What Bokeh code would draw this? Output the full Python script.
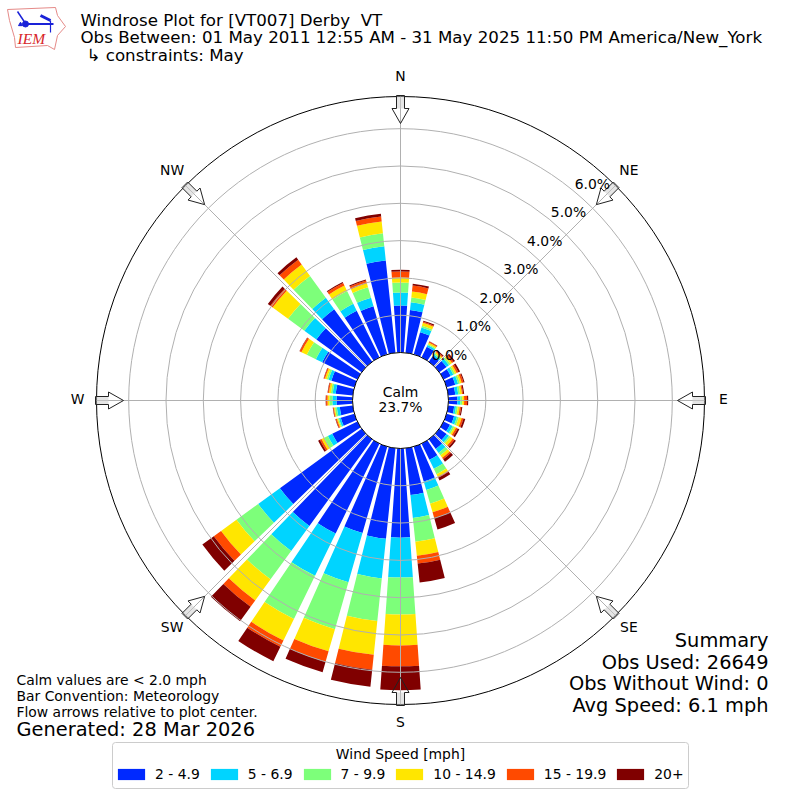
import math
from bokeh.embed import file_html
from bokeh.resources import INLINE
from bokeh.plotting import figure
from bokeh.models import Label, Legend, LegendItem, ColumnDataSource, BoxAnnotation

directions = [d * 10 for d in range(36)]
spd_2_5 = [1.26,1.15,.62,.32,.19,.24,.21,.24,.19,.24,.16,.21,.19,.24,.32,.48,.97,1.26,
           2.39,2.44,2.41,2.68,2.87,2.71,.75,.38,.35,.43,.46,.64,1.05,1.50,1.74,1.39,1.34,2.49]
spd_5_7 = [.35,.21,.13,.05,.05,.08,.08,.08,.08,.08,.05,.08,.08,.08,.13,.27,.24,.62,
           1.07,1.07,1.37,1.26,.83,.72,.13,.05,.08,.11,.08,.08,.19,.40,.38,.21,.24,.38]
spd_7_10 = [.27,.13,.05,.03,.04,.05,.05,.05,.05,.05,.05,.05,.05,.05,.08,.16,.38,.64,
            .99,1.15,1.31,1.29,.94,.72,.11,.03,.05,.08,.05,.05,.27,.54,.72,.38,.29,.35]
spd_10_15 = [.13,.16,.08,.04,.04,.05,.05,.05,.05,.05,.05,.08,.05,.08,.08,.08,.24,.38,
             .83,.91,.62,.64,.70,.51,.08,.03,.03,.05,.05,.05,.16,.51,.38,.16,.11,.32]
spd_15_20 = [.16,.16,.03,.03,.03,.05,.05,.05,.03,.08,.04,.05,.05,.05,.05,.03,.16,.21,
             .56,.40,.29,.19,.21,.24,.05,.03,.02,.04,.03,.03,.05,.08,.16,.08,.08,.13]
spd_20 = [.05,.05,.03,.01,.03,.05,.05,.03,.03,.03,.03,.05,.05,.05,.08,.08,.32,.51,
          .64,.46,.29,.43,.48,.38,.05,.01,.01,.01,.01,.01,.01,.08,.08,.03,.03,.08]
speed_labels = ["2 - 4.9", "5 - 6.9", "7 - 9.9", "10 - 14.9", "15 - 19.9", "20+"]
speed_colors = ["#0029ff", "#00d4ff", "#7dff7a", "#ffe600", "#ff4a00", "#800000"]
ring_values = [0, 1, 2, 3, 4, 5, 6]
compass = [("N", 0), ("NE", 45), ("E", 90), ("SE", 135), ("S", 180), ("SW", 225), ("W", 270), ("NW", 315)]
summary = ["Summary", "Obs Used: 26649", "Obs Without Wind: 0", "Avg Speed: 6.1 mph"]
notes = ["Calm values are < 2.0 mph", "Bar Convention: Meteorology", "Flow arrows relative to plot center."]
generated = "Generated: 28 Mar 2026"
titles = ["Windrose Plot for [VT007] Derby\u00a0 VT",
          "Obs Between: 01 May 2011 12:55 AM - 31 May 2025 11:50 PM America/New_York"]
constraint = "\u21b3 constraints: May"
calm = ["Calm", "23.7%"]
legend_title = "Wind Speed [mph]"

W = 800
PX = 37.3            # pixels per percent
ORIGIN = 48 / PX     # the hole in the middle, in percent units
OUTER = 304 / PX
HALF_BAR = math.radians(4)
FONT = "DejaVu Sans"

p = figure(width=W, height=W, output_backend="svg", toolbar_location=None,
           x_range=(-W / 2 / PX, W / 2 / PX), y_range=(-W / 2 / PX, W / 2 / PX),
           min_border=0, outline_line_color=None)
p.axis.visible = False
p.grid.visible = False
p.background_fill_color = "white"


def lab(x, y, text, size, align="left", color="black"):
    p.add_layout(Label(x=x, y=W - y, x_units="screen", y_units="screen", text=text,
                       text_font=FONT, text_font_size=f"{size}px", text_align=align,
                       text_baseline="middle", text_color=color))


# stacked bars
series = [spd_2_5, spd_5_7, spd_7_10, spd_10_15, spd_15_20, spd_20]
base = [ORIGIN] * len(directions)
start = [math.radians(90 - d) - HALF_BAR for d in directions]
end = [math.radians(90 - d) + HALF_BAR for d in directions]
items = []
for vals, color, name in zip(series, speed_colors, speed_labels):
    top = [b + v for b, v in zip(base, vals)]
    src = ColumnDataSource(dict(x=[0] * len(vals), y=[0] * len(vals), r0=base, r1=top, a0=start, a1=end))
    r = p.annular_wedge(x="x", y="y", inner_radius="r0", outer_radius="r1", start_angle="a0", end_angle="a1",
                        source=src, fill_color=color, line_color=None)
    items.append(LegendItem(label=name, renderers=[r]))
    base = top

# grid
GRID = "#b0b0b0"
for v in ring_values[1:]:
    p.circle(x=[0], y=[0], radius=ORIGIN + v, fill_color=None, line_color=GRID, line_width=1)
for _, d in compass:
    a = math.radians(90 - d)
    p.line([ORIGIN * math.cos(a), OUTER * math.cos(a)], [ORIGIN * math.sin(a), OUTER * math.sin(a)],
           line_color=GRID, line_width=1)
p.circle(x=[0], y=[0], radius=OUTER, fill_color=None, line_color="black", line_width=1)
p.circle(x=[0], y=[0], radius=ORIGIN, fill_color="white", line_color="black", line_width=1)

# flow arrows, drawn along the compass spokes
shape = [(305, -4), (292, -4), (292, -8.5), (277, 0), (292, 8.5), (292, 4), (305, 4)]
shaft = [(305, -4), (292, -4), (292, 4), (305, 4)]
for _, d in compass:
    a = math.radians(d)
    ux, uy = math.sin(a), math.cos(a)
    xs = [(r_ * ux + w_ * uy) / PX for r_, w_ in shaft]
    ys = [(r_ * uy - w_ * ux) / PX for r_, w_ in shaft]
    p.patch(xs, ys, fill_color="#cccccc", fill_alpha=0.5, line_color=None)
    xs = [(r_ * ux + w_ * uy) / PX for r_, w_ in shape]
    ys = [(r_ * uy - w_ * ux) / PX for r_, w_ in shape]
    p.patch(xs, ys, fill_color=None, line_color="#222222", line_width=1)

# compass labels
for name, d in compass:
    a = math.radians(d)
    lab(400 + 323 * math.sin(a), 398 - 323 * math.cos(a), name, 13.9, "center")

# percent labels
for v in ring_values:
    lab(449 + 23.8 * v, 354 - 28.5 * v, f"{v:.1f}%", 13.9, "center")

lab(400, 391, calm[0], 13.9, "center")
lab(400, 406, calm[1], 13.9, "center")

lab(80, 20, titles[0], 16.67, "left")
lab(80, 37, titles[1], 16.67, "left")
lab(86, 55, constraint, 16.67, "left")

for y, t in zip([640, 662, 683, 705], summary):
    lab(768, y, t, 19.4, "right")
for y, t in zip([679, 695, 711], notes):
    lab(16, y, t, 13.9, "left")
lab(16, 729, generated, 19.4, "left")

# logo
LOGO_RED = "#e58a88"
LOGO_BLUE = "#1a22d8"
def lx(x):
    return (x - 400) / PX
def ly(y):
    return (400 - y) / PX
outline = [(7, 9), (55, 7), (57, 15), (65, 26), (57, 35), (54, 49), (47, 45), (15, 47), (14, 37), (9, 20)]
p.patch([lx(a) for a, _ in outline], [ly(b) for _, b in outline], fill_color="white",
        line_color=LOGO_RED, line_width=1)
for seg, w in [(((25, 23.5), (53, 23.5)), 2), (((17, 11), (25, 23)), 1.5), (((40, 15), (50, 20)), 3),
               (((50, 20), (50, 32)), 1.2)]:
    p.line([lx(seg[0][0]), lx(seg[1][0])], [ly(seg[0][1]), ly(seg[1][1])], line_color=LOGO_BLUE, line_width=w)
p.scatter([lx(25)], [ly(23.5)], size=6, color=LOGO_BLUE)
p.scatter([lx(20)], [ly(24)], size=4, marker="triangle", color=LOGO_BLUE)
p.add_layout(Label(x=17, y=W - 38, x_units="screen", y_units="screen", text="IEM", text_font="Liberation Serif",
                   text_font_style="italic", text_font_size="15.5px", text_color="#d8262a",
                   text_align="left", text_baseline="middle"))

# legend frame, entries and centred title
p.add_layout(BoxAnnotation(left=112, right=688, top=W - 742, bottom=W - 788,
                           left_units="screen", right_units="screen", top_units="screen", bottom_units="screen",
                           fill_color="white", fill_alpha=0.8, line_color="#cccccc", line_alpha=1, line_width=1,
                           border_radius=3, level="annotation"))
legend = Legend(items=items, orientation="horizontal", location=(114, W - 782),
                label_text_font=FONT, label_text_font_size="13.9px", label_text_color="black",
                glyph_width=34, glyph_height=14, spacing=7, padding=2, margin=0,
                border_line_color=None, background_fill_color=None, label_standoff=7)
p.add_layout(legend)
lab(400, 753, legend_title, 13.9, "center")

open("out.html", "w").write(file_html(p, INLINE))
